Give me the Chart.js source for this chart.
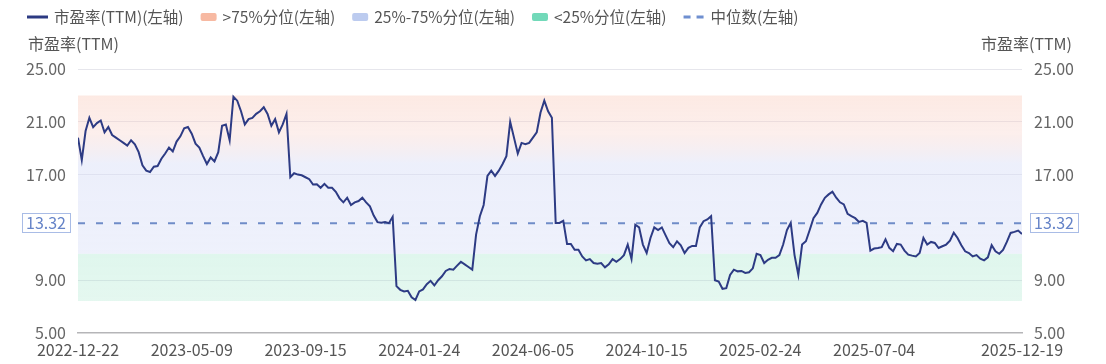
<!DOCTYPE html>
<html lang="zh-CN">
<head>
<meta charset="utf-8">
<title>市盈率(TTM)</title>
<script src="https://cdn.jsdelivr.net/npm/chart.js@4.4.1/dist/chart.umd.min.js"></script>
<style>
  html, body { margin: 0; padding: 0; background: #fff; }
</style>
</head>
<body>
<canvas id="peChart" width="1106" height="364"></canvas>
<script>
// 市盈率(TTM)，按交易日抽样读数
const peValues = [
  19.8, 18.1, 20.3, 21.3, 20.6, 20.9, 21.1, 20.2, 20.6, 20.0,
  19.8, 19.6, 19.4, 19.2, 19.6, 19.3, 18.7, 17.7, 17.3, 17.2,
  17.6, 17.65, 18.2, 18.6, 19.05, 18.75, 19.5, 19.9, 20.5, 20.6,
  20.1, 19.35, 19.05, 18.4, 17.8, 18.3, 18.0, 18.7, 20.7, 20.8,
  19.6, 22.9, 22.6, 21.8, 20.8, 21.2, 21.3, 21.6, 21.8, 22.1,
  21.6, 20.7, 21.2, 20.2, 20.8, 21.6, 16.8, 17.1, 17.0, 16.95,
  16.8, 16.65, 16.25, 16.26, 16.0, 16.3, 16.0, 16.0, 15.7, 15.2,
  14.9, 15.25, 14.7, 14.9, 15.0, 15.25, 14.9, 14.6, 13.9, 13.4,
  13.35, 13.4, 13.32, 13.8, 8.55, 8.27, 8.15, 8.2, 7.7, 7.5,
  8.15, 8.3, 8.7, 8.95, 8.6, 9.0, 9.3, 9.7, 9.85, 9.8,
  10.1, 10.4, 10.2, 10.0, 9.8, 12.45, 13.85, 14.7, 16.9, 17.3,
  16.9, 17.3, 17.8, 18.4, 21.0, 19.8, 18.6, 19.4, 19.3, 19.4,
  19.8, 20.2, 21.7, 22.6, 21.8, 21.3, 13.34, 13.34, 13.5, 11.75,
  11.75, 11.3, 11.3, 10.8, 10.5, 10.6, 10.3, 10.25, 10.3, 9.97,
  10.2, 10.6, 10.4, 10.6, 10.9, 11.7, 10.6, 13.2, 13.0, 11.7,
  11.06, 12.2, 13.0, 12.8, 13.0, 12.4, 11.8, 11.5, 11.95, 11.65,
  11.06, 11.45, 11.6, 11.6, 13.0, 13.47, 13.6, 13.85, 9.0, 8.9,
  8.35, 8.4, 9.4, 9.8, 9.67, 9.7, 9.55, 9.6, 9.9, 11.0,
  10.9, 10.3, 10.55, 10.7, 10.7, 10.9, 11.7, 12.8, 13.34, 10.9,
  9.4, 11.7, 11.95, 12.8, 13.7, 14.1, 14.74, 15.24, 15.5, 15.7,
  15.25, 14.9, 14.74, 14.03, 13.85, 13.7, 13.42, 13.5, 13.34, 11.24,
  11.4, 11.44, 11.5, 12.1, 11.45, 11.2, 11.75, 11.7, 11.24, 10.94,
  10.86, 10.8, 11.06, 12.2, 11.7, 11.9, 11.82, 11.44, 11.57, 11.7,
  12.0, 12.6, 12.2, 11.65, 11.19, 11.06, 10.8, 10.9, 10.63, 10.5,
  10.73, 11.65, 11.19, 11.0, 11.3, 11.9, 12.58, 12.66, 12.76, 12.5
];

// 横轴刻度：数据序号 -> 日期
const xTickIdx = [0, 30, 60, 90, 120, 150, 180, 210, 249];
const xTickLabels = ['2022-12-22', '2023-05-09', '2023-09-15', '2024-01-24', '2024-06-05',
                     '2024-10-15', '2025-02-24', '2025-07-04', '2025-12-19'];

// 纵轴刻度
const yTicks = [5, 9, 13.32, 17, 21, 25];
const median = 13.32;

// 分位区间边界：最高、75%分位、25%分位、最低
const bandEdges = [23.0, 17.8, 11.0, 7.43];

const legendLabels = ['市盈率(TTM)(左轴)', '>75%分位(左轴)', '25%-75%分位(左轴)', '<25%分位(左轴)', '中位数(左轴)'];
const legendKinds = ['line', 'rect', 'rect', 'rect', 'dash'];
const legendColors = ['#2c3a82', '#f7b9a2', '#bccbef', '#72d9b9', '#6f8fd0'];

const fontFamily = "'Noto Sans CJK SC', 'Noto Sans', sans-serif";
Chart.defaults.font.family = fontFamily;
Chart.defaults.font.size = 16;

const lastIdx = peValues.length - 1;

// 一条横贯整个区间的水平线
function span(v) {
    return [{ x: 0, y: v }, { x: lastIdx, y: v }];
}

// 区间填充的渐变（上、中、下三个色标）
const bandColors = [
    ['rgba(249,196,178,0.36)', 'rgba(246,204,196,0.32)', 'rgba(214,220,246,0.45)'],
    ['rgba(214,220,246,0.45)', 'rgba(216,222,247,0.46)', 'rgba(220,226,248,0.48)'],
    ['rgba(150,226,196,0.30)', 'rgba(155,227,198,0.29)', 'rgba(160,228,200,0.28)']
];
function bandFill(k) {
    return function(context) {
        const chart = context.chart;
        if (!chart.chartArea) return bandColors[k][0];
        const sc = chart.scales.y;
        const y0 = sc.getPixelForValue(bandEdges[k]);
        const y1 = sc.getPixelForValue(bandEdges[k + 1]);
        const g = chart.ctx.createLinearGradient(0, y0, 0, y1);
        g.addColorStop(0, bandColors[k][0]);
        g.addColorStop(0.55, bandColors[k][1]);
        g.addColorStop(1, bandColors[k][2]);
        return g;
    };
}

// 图例
const legendPlugin = {
    id: 'peLegend',
    afterDraw(chart) {
        const c = chart.ctx;
        c.save();
        c.font = '15.5px ' + fontFamily;
        c.textBaseline = 'middle';
        let x = 27;
        const cy = 17;
        legendLabels.forEach((text, k) => {
            const kind = legendKinds[k];
            let w;
            if (kind === 'rect') {
                w = 16;
                c.fillStyle = legendColors[k];
                c.beginPath();
                c.roundRect(x, cy - 4, w, 8, 2);
                c.fill();
            } else {
                w = 21;
                c.strokeStyle = legendColors[k];
                c.lineWidth = 3;
                c.setLineDash(kind === 'dash' ? [7, 6] : []);
                c.beginPath();
                c.moveTo(x, cy);
                c.lineTo(x + w, cy);
                c.stroke();
                c.setLineDash([]);
            }
            x += w + 6;
            c.fillStyle = '#555';
            c.fillText(text, x, cy);
            x += c.measureText(text).width + 17;
        });
        c.restore();
    }
};

// 轴名称和中位数标签的边框
const axisExtras = {
    id: 'axisExtras',
    afterDraw(chart) {
        const c = chart.ctx;
        const area = chart.chartArea;
        c.save();
        c.font = '16px ' + fontFamily;
        c.fillStyle = '#555';
        c.textBaseline = 'middle';
        c.textAlign = 'left';
        c.fillText('市盈率(TTM)', area.left - 50, area.top - 25);
        c.textAlign = 'right';
        c.fillText('市盈率(TTM)', area.right + 50, area.top - 25);

        const txt = median.toFixed(2);
        const tw = c.measureText(txt).width;
        c.strokeStyle = '#a9bce6';
        c.lineWidth = 1;
        ['y', 'y2'].forEach(id => {
            const yPix = chart.scales[id].getPixelForValue(median);
            const x0 = id === 'y' ? area.left - 12 - tw - 4 : area.right + 12 - 4;
            c.strokeRect(Math.round(x0) + 0.5, Math.round(yPix - 10) + 0.5, Math.round(tw + 8), 19);
        });
        c.restore();
    }
};

function yAxis(position, width) {
    return {
        type: 'linear',
        position: position,
        min: 5,
        max: 25,
        afterBuildTicks: axis => { axis.ticks = yTicks.map(v => ({ value: v })); },
        afterFit: axis => { axis.width = width; },
        border: { display: false },
        grid: {
            display: position === 'left',
            drawTicks: false,
            color: ctx => (ctx.tick && (ctx.tick.value === median || ctx.tick.value === 5)) ? 'rgba(0,0,0,0)' : '#e6e6ec'
        },
        ticks: {
            padding: 12,
            color: ctx => ctx.tick.value === median ? '#6684c8' : '#666',
            callback: v => Number(v).toFixed(2)
        }
    };
}

new Chart(document.getElementById('peChart'), {
    type: 'line',
    data: {
        datasets: [
            {
                label: legendLabels[0],
                data: peValues.map((v, i) => ({ x: i, y: v })),
                borderColor: '#2d3b84',
                borderWidth: 2,
                pointRadius: 0,
                fill: false,
                order: 0
            },
            { label: 'top', data: span(bandEdges[0]), borderWidth: 0, pointRadius: 0, fill: false, order: 5 },
            { label: legendLabels[1], data: span(bandEdges[1]), borderWidth: 0, pointRadius: 0, fill: '-1', backgroundColor: bandFill(0), order: 5 },
            { label: legendLabels[2], data: span(bandEdges[2]), borderWidth: 0, pointRadius: 0, fill: '-1', backgroundColor: bandFill(1), order: 5 },
            { label: legendLabels[3], data: span(bandEdges[3]), borderWidth: 0, pointRadius: 0, fill: '-1', backgroundColor: bandFill(2), order: 5 },
            {
                label: legendLabels[4],
                data: span(median),
                borderColor: '#6f8cc8',
                borderWidth: 2,
                borderDash: [7, 11],
                pointRadius: 0,
                fill: false,
                order: 1
            }
        ]
    },
    options: {
        responsive: false,
        animation: false,
        devicePixelRatio: 1,
        layout: { padding: { top: 69, left: 0, right: 0, bottom: 0 } },
        plugins: {
            legend: { display: false },
            tooltip: { enabled: false }
        },
        scales: {
            x: {
                type: 'linear',
                min: 0,
                max: lastIdx,
                afterBuildTicks: axis => { axis.ticks = xTickIdx.map(v => ({ value: v })); },
                afterFit: axis => { axis.height = 31; },
                grid: { display: false, drawTicks: false },
                border: { display: true, color: '#b5b5b8', width: 1.5 },
                ticks: {
                    autoSkip: false,
                    maxRotation: 0,
                    padding: 7,
                    color: '#555',
                    callback: v => {
                        const k = xTickIdx.indexOf(v);
                        return k >= 0 ? xTickLabels[k] : '';
                    }
                }
            },
            y: yAxis('left', 78),
            y2: yAxis('right', 84)
        }
    },
    plugins: [legendPlugin, axisExtras]
});
</script>
</body>
</html>
